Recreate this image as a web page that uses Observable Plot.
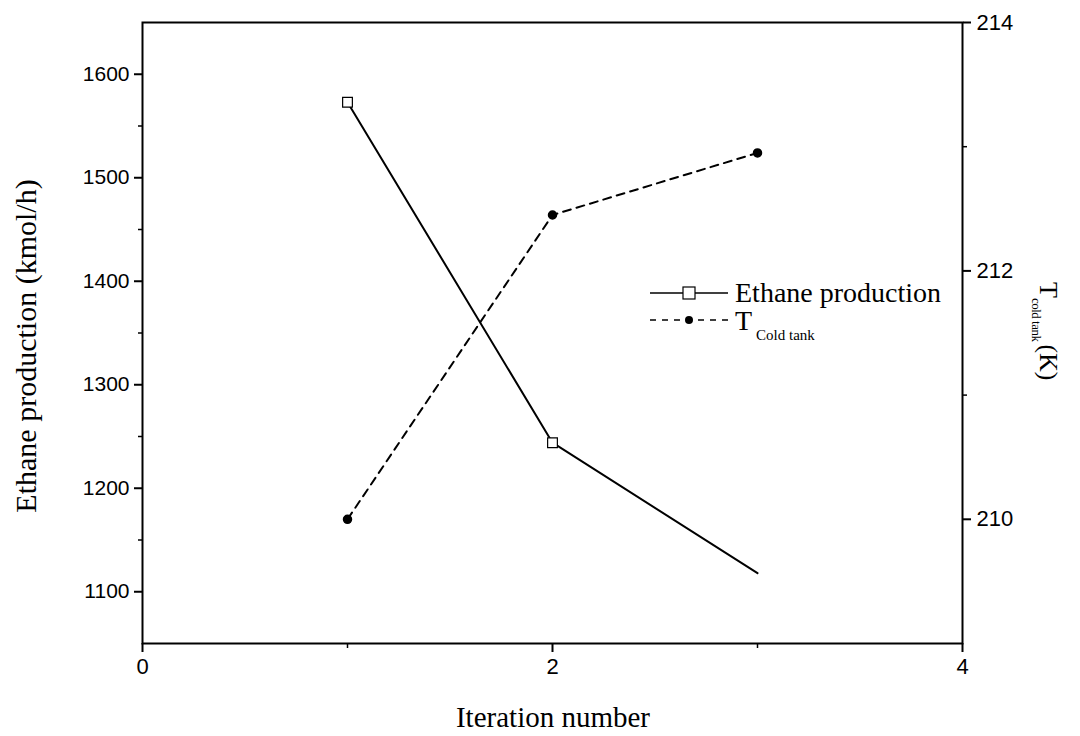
<!DOCTYPE html>
<html>
<head>
<meta charset="utf-8">
<script src="https://cdn.jsdelivr.net/npm/d3@7"></script>
<script src="https://cdn.jsdelivr.net/npm/@observablehq/plot@0.6"></script>
<style>
  html, body { margin: 0; padding: 0; background: #fff; }
  #chart { width: 1080px; height: 736px; }
</style>
</head>
<body>
<div id="chart"></div>
<script>
// ---- data ----
const iterations = [1, 2, 3];
const ethaneProduction = [1573, 1244, 1118];   // kmol/h (left axis)
const tColdTank = [210.0, 212.45, 212.95];     // K (right axis)

const xTicks = [0, 2, 4];
const xMinorTicks = [1, 3];
const leftTicks = [1100, 1200, 1300, 1400, 1500, 1600];
const leftMinorTicks = [1150, 1250, 1350, 1450, 1550];
const rightTicks = [210, 212, 214];
const rightMinorTicks = [211, 213];

const seriesNames = ["Ethane production", "T"];
const tSub = "Cold tank";
const xTitle = "Iteration number";
const yTitle = "Ethane production (kmol/h)";

// ---- scales ----
const leftDomain = [1050, 1650];
const rightDomain = [209, 214];
const toLeft = t => leftDomain[0] + (t - rightDomain[0]) * (leftDomain[1] - leftDomain[0]) / (rightDomain[1] - rightDomain[0]);
const fromLeft = v => rightDomain[0] + (v - leftDomain[0]) * (rightDomain[1] - rightDomain[0]) / (leftDomain[1] - leftDomain[0]);

const ethane = iterations.map((x, i) => ({x, y: ethaneProduction[i]}));
const temp = iterations.map((x, i) => ({x, y: toLeft(tColdTank[i]), t: tColdTank[i]}));

const sans = "'Liberation Sans', Arial, sans-serif";
const serif = "'Liberation Serif', 'Times New Roman', serif";

const plot = Plot.plot({
  width: 1080,
  height: 736,
  marginLeft: 142,
  marginRight: 118,
  marginTop: 22,
  marginBottom: 93,
  style: {fontFamily: sans, fontSize: "22px", color: "black", background: "white"},
  x: {domain: [0, 4]},
  y: {domain: leftDomain},
  marks: [
    Plot.frame({stroke: "black", strokeWidth: 2}),
    // x axis
    Plot.axisX({ticks: xTicks, tickSize: 9, tickPadding: 6, strokeWidth: 2, label: null, tickFormat: d3.format("d"), fontSize: 22}),
    Plot.axisX({ticks: xMinorTicks, tickSize: 5, strokeWidth: 1.5, label: null, tickFormat: () => ""}),
    // left axis
    Plot.axisY({ticks: leftTicks, tickSize: 8, tickPadding: 5, strokeWidth: 2, label: null, tickFormat: d3.format("d"), fontSize: 21}),
    Plot.axisY({ticks: leftMinorTicks, tickSize: 4, strokeWidth: 1.5, label: null, tickFormat: () => ""}),
    // right axis (temperature mapped onto left scale)
    Plot.axisY({anchor: "right", ticks: rightTicks.map(toLeft), tickSize: 8, tickPadding: 6, strokeWidth: 2, label: null, tickFormat: v => d3.format("d")(Math.round(fromLeft(v))), fontSize: 22}),
    Plot.axisY({anchor: "right", ticks: rightMinorTicks.map(toLeft), tickSize: 4, strokeWidth: 1.5, label: null, tickFormat: () => ""}),
    // series
    Plot.line(ethane, {x: "x", y: "y", stroke: "black", strokeWidth: 2}),
    Plot.dot(ethane, {x: "x", y: "y", filter: (d, i) => i < 2, symbol: "square", r: 5.5, fill: "white", stroke: "black", strokeWidth: 1.2}),
    Plot.line(temp, {x: "x", y: "y", stroke: "black", strokeWidth: 2, strokeDasharray: "8,6"}),
    Plot.dot(temp, {x: "x", y: "y", symbol: "circle", r: 4, fill: "black", stroke: "black"})
  ]
});

document.getElementById("chart").appendChild(plot);

// ---- titles and legend ----
const svg = d3.select(plot);

svg.append("text")
  .attr("transform", "translate(36,346) rotate(-90)")
  .attr("text-anchor", "middle")
  .style("font-family", serif).style("font-size", "30px").attr("fill", "black")
  .text(yTitle);

svg.append("text")
  .attr("x", 553).attr("y", 727)
  .attr("text-anchor", "middle")
  .style("font-family", serif).style("font-size", "29px").attr("fill", "black")
  .text(xTitle);

const rt = svg.append("text")
  .attr("transform", "translate(1040,282) rotate(90)")
  .attr("text-anchor", "start")
  .style("font-family", serif).style("font-size", "26px").attr("fill", "black");
rt.append("tspan").text("T");
rt.append("tspan").attr("dy", 8).style("font-size", "13px").style("letter-spacing", "-0.5px").text("cold tank");
rt.append("tspan").attr("dy", -8).attr("dx", 3).text("(K)");

// legend
const lg = svg.append("g");
const ly1 = 293, ly2 = 320, lx0 = 650, lx1 = 728, lxm = 689, ltx = 735;
lg.append("line").attr("x1", lx0).attr("x2", lx1).attr("y1", ly1).attr("y2", ly1).attr("stroke", "black").attr("stroke-width", 1.5);
lg.append("rect").attr("x", lxm - 6).attr("y", ly1 - 6).attr("width", 12).attr("height", 12).attr("fill", "white").attr("stroke", "black").attr("stroke-width", 1.2);
lg.append("text").attr("x", ltx).attr("y", ly1 + 9).attr("text-anchor", "start")
  .style("font-family", serif).style("font-size", "28px").attr("fill", "black").text(seriesNames[0]);
lg.append("line").attr("x1", lx0).attr("x2", lx1).attr("y1", ly2).attr("y2", ly2).attr("stroke", "black").attr("stroke-width", 1.5).attr("stroke-dasharray", "6,6");
lg.append("circle").attr("cx", lxm).attr("cy", ly2).attr("r", 4).attr("fill", "black");
const lt = lg.append("text").attr("x", ltx).attr("y", ly2 + 10).attr("text-anchor", "start")
  .style("font-family", serif).style("font-size", "28px").attr("fill", "black");
lt.append("tspan").text(seriesNames[1]);
lt.append("tspan").attr("dy", 10).attr("dx", 4).style("font-size", "15px").text(tSub);
</script>
</body>
</html>
